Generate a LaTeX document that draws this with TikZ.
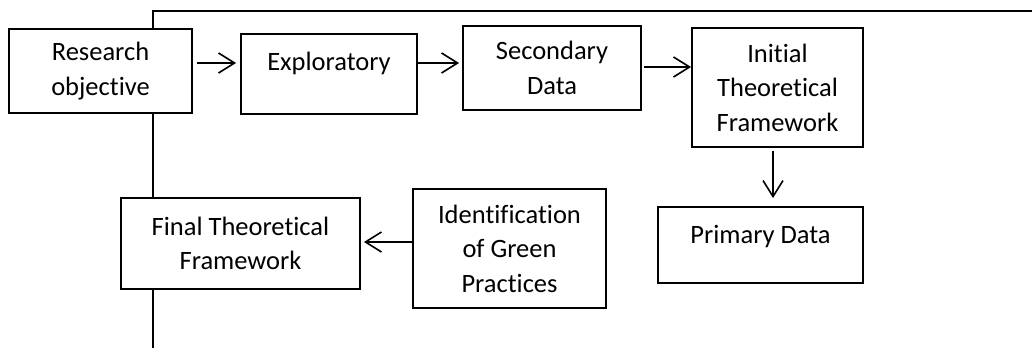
\documentclass[tikz,border=0pt]{standalone}
\usepackage{fontspec}
\setmainfont[Ligatures=NoCommon]{Carlito}
\usetikzlibrary{arrows.meta}
\begin{document}
\begin{tikzpicture}[x=1pt,y=-1pt,
  box/.style={draw=black,line width=1.9pt,fill=white,inner sep=0pt,align=center,
    font=\fontsize{26.5}{34.5}\selectfont},
  arr/.style={line width=1.6pt,-{Straight Barb[length=16pt,width=20pt,line width=1.6pt]}},
  frame/.style={line width=2.1pt}]
\useasboundingbox (0,0) rectangle (1032,348);
\coordinate (bot) at (153,348);
\coordinate (corner) at (153,11);
\coordinate (rend) at (1032,11);
\draw[frame] (bot) -- (corner) -- (rend);

\node[box,minimum width=183pt,minimum height=84pt] (ro) at (100.5,71) {Research\\objective};
\node[box,minimum width=176pt,minimum height=80pt,text height=14pt,text depth=22pt] (ex) at (329,74) {Exploratory};
\node[box,minimum width=178pt,minimum height=84pt] (sd) at (552,68) {Secondary\\Data};
\node[box,minimum width=171pt,minimum height=119pt] (itf) at (777.5,87.5) {Initial\\Theoretical\\Framework};
\node[box,minimum width=205pt,minimum height=76pt,text height=16pt,text depth=20pt] (pd) at (760.5,245) {Primary Data};
\node[box,minimum width=193pt,minimum height=119pt] (igp) at (509.5,248.5) {Identification\\of Green\\Practices};
\node[box,minimum width=239pt,minimum height=91pt] (ftf) at (240.5,243.5) {Final Theoretical\\Framework};

\draw[arr] ([xshift=4pt,yshift=8pt]ro.east) -- ([xshift=-4pt,yshift=11pt]ex.west);
\draw[arr] ([yshift=11pt]ex.east) -- ([xshift=-3pt,yshift=5pt]sd.west);
\draw[arr] ([xshift=2pt,yshift=1pt]sd.east) -- ([yshift=20.5pt]itf.west);
\draw[arr] ([xshift=-4.5pt,yshift=-3pt]itf.south) -- ([xshift=12.5pt,yshift=8pt]pd.north);
\draw[arr] ([yshift=6.5pt]igp.west) -- ([xshift=3pt,yshift=1.5pt]ftf.east);
\end{tikzpicture}
\end{document}
